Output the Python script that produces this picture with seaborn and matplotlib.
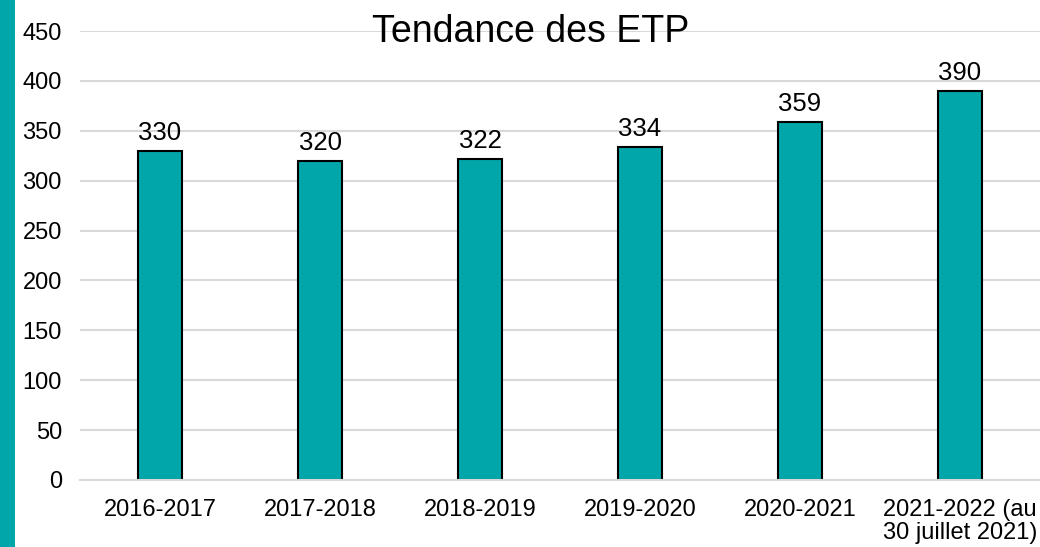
import matplotlib
matplotlib.use("Agg")
import matplotlib.pyplot as plt
import pandas as pd
import seaborn as sns
from matplotlib.patches import Rectangle

PERIODS = [
    "2016-2017",
    "2017-2018",
    "2018-2019",
    "2019-2020",
    "2020-2021",
    "2021-2022 (au\n30 juillet 2021)",
]
ETP = [330, 320, 322, 334, 359, 390]
Y_TICKS = [0, 50, 100, 150, 200, 250, 300, 350, 400, 450]

TEAL = "#00A6A9"
GRID = "#D9D9D9"

sns.set_theme(style="white")
plt.rcParams["font.family"] = ["Liberation Sans", "DejaVu Sans"]
plt.rcParams["text.color"] = "black"
plt.rcParams["xtick.color"] = "black"
plt.rcParams["ytick.color"] = "black"

df = pd.DataFrame({"period": PERIODS, "etp": ETP})

fig = plt.figure(figsize=(10.4, 5.47), dpi=100)
ax = fig.add_axes([80 / 1040, 67 / 547, 960 / 1040, 449 / 547])

sns.barplot(
    data=df,
    x="period",
    y="etp",
    color=TEAL,
    saturation=1,
    width=0.27,
    edgecolor="black",
    linewidth=1.5,
    ax=ax,
)
ax.bar_label(ax.containers[0], fmt="%d", padding=4, fontsize=18.5, color="black")

ax.set_ylim(0, 450)
ax.set_xlim(-0.5, len(PERIODS) - 0.5)
ax.set_yticks(Y_TICKS)
ax.yaxis.grid(True, color=GRID, linewidth=1.5)
ax.set_axisbelow(True)
ax.set_xlabel("")
ax.set_ylabel("")
ax.tick_params(axis="y", length=0, pad=13, labelsize=17, labelcolor="black")
ax.tick_params(axis="x", length=0, pad=14, labelsize=17, labelcolor="black")
for lbl in ax.get_xticklabels():
    lbl.set_linespacing(1.02)
ax.set_xticks([i - 0.5 for i in range(len(PERIODS) + 1)], minor=True)
ax.tick_params(axis="x", which="minor", length=8, width=1.5, color=GRID)

for side in ["top", "right", "left"]:
    ax.spines[side].set_visible(False)
ax.spines["bottom"].set_color(GRID)
ax.spines["bottom"].set_linewidth(1.5)

fig.text(531 / 1040, 1 - 32 / 547, "Tendance des ETP", ha="center", va="center",
         fontsize=27, color="black")
fig.patches.append(Rectangle((0, 0), 15 / 1040, 1, transform=fig.transFigure,
                             facecolor=TEAL, edgecolor="none"))

fig.savefig("out.png", dpi=100)
